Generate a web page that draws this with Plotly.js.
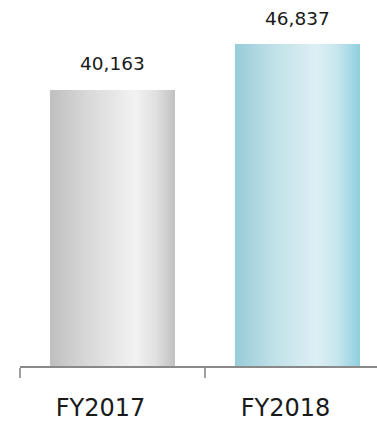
<!DOCTYPE html>
<html>
<head>
<meta charset="utf-8">
<script src="https://cdn.plot.ly/plotly-3.0.1.min.js"></script>
<style>html,body{margin:0;padding:0;background:#fff;}#chart{width:377px;height:421px;}</style>
</head>
<body>
<div id="chart"></div>
<script>
const categories = ["FY2017", "FY2018"];
const values = [40163, 46837];
const valueLabels = ["40,163", "46,837"];

const FONT = "DejaVu Sans, Verdana, sans-serif";

const trace = {
  type: "bar",
  x: categories,
  y: values,
  marker: { color: ["#d9d9d9", "#bfe3ea"], line: { width: 0 } },
  hoverinfo: "none"
};

const annotations = categories.map((c, i) => ({
  x: c, y: values[i], xref: "x", yref: "y",
  text: valueLabels[i], showarrow: false,
  yanchor: "middle", yshift: 26,
  font: { family: FONT, size: 18.5, color: "#1a1a1a" }
}));

const layout = {
  width: 377, height: 421,
  margin: { l: 20, r: 0, t: 0, b: 55 },
  paper_bgcolor: "#ffffff", plot_bgcolor: "#ffffff",
  showlegend: false,
  bargap: 0.324,
  xaxis: {
    type: "category",
    range: [-0.5, 1.43],
    showline: true, linecolor: "#898989", linewidth: 1.5,
    ticks: "outside", tickson: "boundaries", ticklen: 10, tickwidth: 1.5, tickcolor: "#a0a0a0",
    showgrid: false, zeroline: false,
    ticklabelstandoff: 20,
    ticklabelshift: -12,
    tickfont: { family: FONT, size: 24, color: "#1a1a1a" }
  },
  yaxis: {
    range: [0, 53250],
    visible: false, showgrid: false, zeroline: false
  },
  annotations: annotations
};

Plotly.newPlot("chart", [trace], layout, { staticPlot: true, displayModeBar: false }).then(gd => {
  const svg = gd.querySelector("svg.main-svg");
  const ns = "http://www.w3.org/2000/svg";
  let defs = svg.querySelector("defs");
  if (!defs) { defs = document.createElementNS(ns, "defs"); svg.insertBefore(defs, svg.firstChild); }
  const grads = [
    { id: "gGray", stops: [[0, "#bfbfbf"], [0.3, "#d8d8d8"], [0.68, "#f2f2f2"], [0.85, "#e0e0e0"], [1, "#c0c0c0"]] },
    { id: "gBlue", stops: [[0, "#96ccd8"], [0.3, "#bfe0e8"], [0.65, "#ddeff4"], [0.82, "#c6e6ee"], [1, "#8fcfdf"]] }
  ];
  grads.forEach(g => {
    const lg = document.createElementNS(ns, "linearGradient");
    lg.setAttribute("id", g.id);
    lg.setAttribute("x1", "0"); lg.setAttribute("y1", "0");
    lg.setAttribute("x2", "1"); lg.setAttribute("y2", "0");
    g.stops.forEach(s => {
      const st = document.createElementNS(ns, "stop");
      st.setAttribute("offset", s[0]);
      st.setAttribute("stop-color", s[1]);
      lg.appendChild(st);
    });
    defs.appendChild(lg);
  });
  const paths = gd.querySelectorAll(".barlayer .point path");
  paths.forEach((p, i) => {
    p.style.fill = "url(#" + grads[i % grads.length].id + ")";
  });
});
</script>
</body>
</html>
